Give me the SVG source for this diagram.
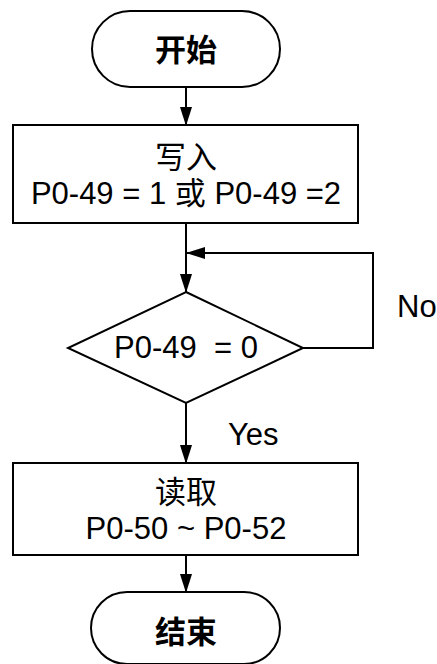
<svg xmlns="http://www.w3.org/2000/svg" width="437" height="664" viewBox="0 0 437 664">
<style>
.s{fill:#fff;stroke:#000;stroke-width:2}
.c{fill:none;stroke:#000;stroke-width:2}
text{font-family:"Liberation Sans","Noto Sans CJK SC",sans-serif;fill:#000}
.m{text-anchor:middle}
.b{font-weight:bold;font-size:31px}
.n{font-size:31px}
</style>
<defs>
<marker id="a" markerWidth="19" markerHeight="12" refX="18" refY="6" orient="auto" markerUnits="userSpaceOnUse" viewBox="0 0 19 12">
<path d="M0,0 L19,6 L0,12 z" fill="#000"/>
</marker>
</defs>
<g id="connectors">
<line class="c" x1="186" y1="87" x2="186" y2="125" marker-end="url(#a)"/>
<line class="c" x1="186" y1="223" x2="186" y2="292" marker-end="url(#a)"/>
<polyline class="c" points="303,348 373,348 373,253 187,253" marker-end="url(#a)"/>
<line class="c" x1="186" y1="403" x2="186" y2="463" marker-end="url(#a)"/>
<line class="c" x1="186" y1="555" x2="186" y2="592" marker-end="url(#a)"/>
<text class="n" x="397" y="317">No</text>
<text class="n" x="228" y="445">Yes</text>
</g>
<g id="start">
<rect class="s" x="92" y="11" width="188" height="76" rx="38"/>
<text class="m b" x="186" y="61">开始</text>
</g>
<g id="write">
<rect class="s" x="13" y="125" width="345" height="98"/>
<text class="m n" x="186" y="168">写入</text>
<text class="m n" x="186" y="204">P0-49 = 1 或 P0-49 =2</text>
</g>
<g id="check">
<polygon class="s" points="186,292 303,348 186,403 68,348"/>
<text class="m n" x="186" y="358" xml:space="preserve">P0-49  = 0</text>
</g>
<g id="read">
<rect class="s" x="13" y="463" width="345" height="92"/>
<text class="m n" x="186" y="503">读取</text>
<text class="m n" x="186" y="539">P0-50 ~ P0-52</text>
</g>
<g id="end">
<rect class="s" x="91" y="592" width="189" height="72" rx="36"/>
<text class="m b" x="186" y="643">结束</text>
</g>
</svg>
